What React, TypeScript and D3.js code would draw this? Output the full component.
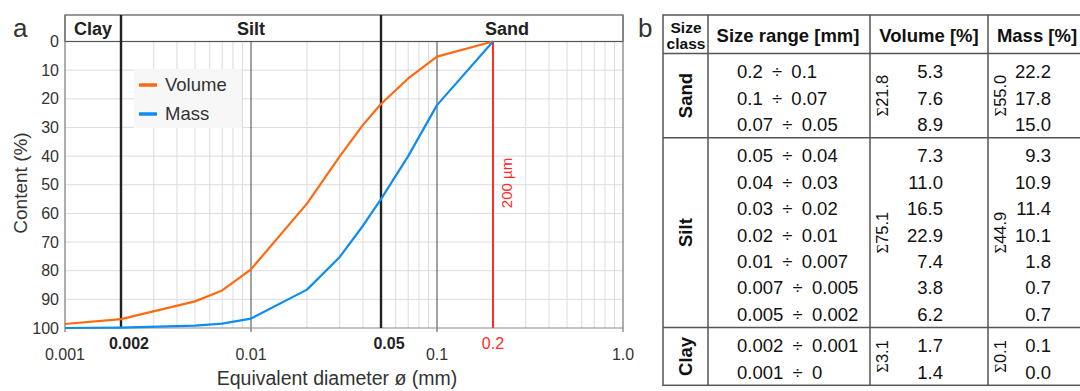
import { useEffect, useRef } from "react";
import * as d3 from "d3";

// cumulative content curves, diameters in mm
const diameters = [0.001, 0.002, 0.005, 0.007, 0.01, 0.02, 0.03, 0.04, 0.05, 0.07, 0.1, 0.2];
const volumeCum = [98.6, 96.9, 90.7, 86.9, 79.5, 56.6, 40.1, 29.1, 21.8, 12.9, 5.3, 0];
const massCum = [100, 99.9, 99.2, 98.5, 96.7, 86.6, 75.2, 64.3, 55.0, 40.0, 22.2, 0];

const classNames = ["Clay", "Silt", "Sand"];
const classBounds = [0.001, 0.002, 0.05, 1];
const yTicks = [0, 10, 20, 30, 40, 50, 60, 70, 80, 90, 100];
const xTicks = [0.001, 0.01, 0.1, 1];
const xTickLabels = ["0.001", "0.01", "0.1", "1.0"];
const boldTicks = [0.002, 0.05];
const limitSize = 0.2;

// table (panel b)
const tableClasses = ["Sand", "Silt", "Clay"];
const classRowCounts = [3, 7, 2];
const sizeRanges = [
  "0.2 ÷ 0.1", "0.1 ÷ 0.07", "0.07 ÷ 0.05",
  "0.05 ÷ 0.04", "0.04 ÷ 0.03", "0.03 ÷ 0.02", "0.02 ÷ 0.01", "0.01 ÷ 0.007", "0.007 ÷ 0.005", "0.005 ÷ 0.002",
  "0.002 ÷ 0.001", "0.001 ÷ 0",
];
const volumePct = [5.3, 7.6, 8.9, 7.3, 11.0, 16.5, 22.9, 7.4, 3.8, 6.2, 1.7, 1.4];
const massPct = [22.2, 17.8, 15.0, 9.3, 10.9, 11.4, 10.1, 1.8, 0.7, 0.7, 0.1, 0.0];
const volumeSums = ["21.8", "75.1", "3.1"];
const massSums = ["55.0", "44.9", "0.1"];

const FONT = "'Liberation Sans', Arial, sans-serif";
const ORANGE = "#ff6a10";
const BLUE = "#0f8cf0";
const RED = "#ff2b2b";
const TXT = "#333";

export default function App() {
  const svgRef = useRef<SVGSVGElement>(null);

  useEffect(() => {
    if (!svgRef.current) return;
    const svg = d3.select(svgRef.current);
    svg.selectAll("*").remove();
    svg.attr("font-family", FONT);

    const left = 65, right = 623, top = 41.5, bottom = 328, headTop = 15;
    const x = d3.scaleLog().domain([0.001, 1]).range([left, right]);
    const y = d3.scaleLinear().domain([0, 100]).range([top, bottom]);

    const g = svg.append("g");

    // minor vertical grid
    const minor: number[] = [];
    [0.001, 0.01, 0.1].forEach((d) => d3.range(2, 10).forEach((k) => minor.push(d * k)));
    g.selectAll(".minor").data(minor).join("line")
      .attr("x1", (d) => x(d)).attr("x2", (d) => x(d)).attr("y1", top).attr("y2", bottom)
      .attr("stroke", "#dcdcdc").attr("stroke-width", 1);

    // horizontal grid
    g.selectAll(".hgrid").data(yTicks.slice(1, -1)).join("line")
      .attr("x1", left).attr("x2", right).attr("y1", (d) => y(d)).attr("y2", (d) => y(d))
      .attr("stroke", "#dcdcdc").attr("stroke-width", 1);

    // decade lines
    g.selectAll(".decade").data([0.01, 0.1]).join("line")
      .attr("x1", (d) => x(d)).attr("x2", (d) => x(d)).attr("y1", top).attr("y2", bottom + 4)
      .attr("stroke", "#444").attr("stroke-width", 1);

    // frame
    g.append("rect").attr("x", left).attr("y", headTop).attr("width", right - left).attr("height", top - headTop)
      .attr("fill", "none").attr("stroke", "#555").attr("stroke-width", 1.2);
    g.append("line").attr("x1", left).attr("x2", right).attr("y1", bottom).attr("y2", bottom)
      .attr("stroke", "#888").attr("stroke-width", 1.2);
    g.append("line").attr("x1", left).attr("x2", left).attr("y1", headTop).attr("y2", bottom + 4)
      .attr("stroke", "#777").attr("stroke-width", 1.2);
    g.append("line").attr("x1", right).attr("x2", right).attr("y1", headTop).attr("y2", bottom + 4)
      .attr("stroke", "#777").attr("stroke-width", 1.2);

    // class boundaries
    g.selectAll(".bound").data(boldTicks).join("line")
      .attr("x1", (d) => x(d)).attr("x2", (d) => x(d)).attr("y1", headTop).attr("y2", bottom)
      .attr("stroke", "#222").attr("stroke-width", 2.4);

    // class labels
    g.selectAll(".cls").data(classNames).join("text")
      .attr("x", (_, i) => (x(classBounds[i]) + x(classBounds[i + 1])) / 2 + (i === 0 ? 0 : -5 + i * 5))
      .attr("y", 35).attr("text-anchor", "middle").attr("font-weight", "bold")
      .attr("font-size", 18).attr("fill", "#222").text((d) => d);

    // 200 µm line
    g.append("line").attr("x1", x(limitSize)).attr("x2", x(limitSize)).attr("y1", top).attr("y2", bottom)
      .attr("stroke", RED).attr("stroke-width", 2);
    g.append("text").attr("transform", `translate(${x(limitSize) + 19},183) rotate(-90)`)
      .attr("text-anchor", "middle").attr("font-size", 15).attr("fill", RED).text("200 µm");

    // curves
    const line = d3.line<number>()
      .x((_, i) => x(diameters[i])).y((d) => y(d));
    g.append("path").datum(volumeCum).attr("d", line).attr("fill", "none")
      .attr("stroke", ORANGE).attr("stroke-width", 2.2).attr("stroke-linejoin", "round");
    g.append("path").datum(massCum).attr("d", line).attr("fill", "none")
      .attr("stroke", BLUE).attr("stroke-width", 2.2).attr("stroke-linejoin", "round");

    // y ticks
    g.selectAll(".ytl").data(yTicks).join("text")
      .attr("x", left - 6).attr("y", (d) => y(d) + 5.5).attr("text-anchor", "end")
      .attr("font-size", 16).attr("fill", TXT).text((d) => d);
    g.append("text").attr("transform", `translate(27,183) rotate(-90)`)
      .attr("text-anchor", "middle").attr("font-size", 19).attr("fill", TXT).text("Content (%)");

    // x ticks
    g.selectAll(".xtl").data(xTicks).join("text")
      .attr("x", (d) => x(d)).attr("y", 360).attr("text-anchor", "middle")
      .attr("font-size", 16).attr("fill", TXT).text((_, i) => xTickLabels[i]);
    g.selectAll(".xbl").data(boldTicks).join("text")
      .attr("x", (d) => x(d) + 8).attr("y", 349).attr("text-anchor", "middle").attr("font-weight", "bold")
      .attr("font-size", 16).attr("fill", "#222").text((d) => String(d));
    g.append("text").attr("x", x(limitSize)).attr("y", 349).attr("text-anchor", "middle")
      .attr("font-size", 16).attr("fill", RED).text(String(limitSize));
    g.append("text").attr("x", 337).attr("y", 385).attr("text-anchor", "middle")
      .attr("font-size", 19.5).attr("fill", TXT).text("Equivalent diameter ø (mm)");

    // legend
    const lg = g.append("g").attr("transform", "translate(134,69)");
    lg.append("rect").attr("width", 108).attr("height", 59).attr("fill", "#f7f7f7");
    [["Volume", ORANGE], ["Mass", BLUE]].forEach(([name, c], i) => {
      lg.append("line").attr("x1", 5).attr("x2", 23).attr("y1", 16 + i * 29).attr("y2", 16 + i * 29)
        .attr("stroke", c).attr("stroke-width", 3.5);
      lg.append("text").attr("x", 31).attr("y", 22 + i * 29).attr("font-size", 18.5).attr("fill", TXT).text(name);
    });

    // panel letters
    svg.append("text").attr("x", 13).attr("y", 37).attr("font-size", 26).attr("fill", TXT).text("a");
    svg.append("text").attr("x", 638).attr("y", 37).attr("font-size", 26).attr("fill", TXT).text("b");

    // ---------- table ----------
    const t = svg.append("g");
    const colX = [663, 708, 870, 988, 1082];
    const tTop = 15, headBottom = 53.5, rowH = 26.4, pad = 5;
    const stroke = "#555";

    const groups: { y0: number; y1: number; start: number; n: number }[] = [];
    let cy = headBottom, start = 0;
    classRowCounts.forEach((n) => {
      const h = n * rowH + pad;
      groups.push({ y0: cy, y1: cy + h, start, n });
      cy += h; start += n;
    });
    const tBottom = cy;

    t.append("rect").attr("x", colX[0]).attr("y", tTop).attr("width", colX[4] - colX[0]).attr("height", tBottom - tTop)
      .attr("fill", "none").attr("stroke", stroke).attr("stroke-width", 1.5);
    colX.slice(1, 4).forEach((cx) => {
      t.append("line").attr("x1", cx).attr("x2", cx).attr("y1", tTop).attr("y2", tBottom)
        .attr("stroke", stroke).attr("stroke-width", 1.5);
    });
    [headBottom, ...groups.slice(1).map((gr) => gr.y0)].forEach((yy) => {
      t.append("line").attr("x1", colX[0]).attr("x2", colX[4]).attr("y1", yy).attr("y2", yy)
        .attr("stroke", stroke).attr("stroke-width", 1.5);
    });

    // header
    t.append("text").attr("x", 686).attr("y", 33).attr("text-anchor", "middle").attr("font-weight", "bold")
      .attr("font-size", 15.5).attr("fill", "#111").text("Size");
    t.append("text").attr("x", 686).attr("y", 49).attr("text-anchor", "middle").attr("font-weight", "bold")
      .attr("font-size", 15.5).attr("fill", "#111").text("class");
    const headX = [788, 929, 1037];
    ["Size range [mm]", "Volume [%]", "Mass [%]"].forEach((h, i) => {
      t.append("text").attr("x", headX[i]).attr("y", 42)
        .attr("text-anchor", "middle").attr("font-weight", "bold").attr("font-size", 18.5).attr("fill", "#111").text(h);
    });

    const rowY = (i: number) => {
      const gr = groups.find((q) => i >= q.start && i < q.start + q.n)!;
      return gr.y0 + pad / 2 + 2.5 + (i - gr.start) * rowH + rowH / 2;
    };
    const fmt = d3.format(".1f");

    sizeRanges.forEach((r, i) => {
      const yy = rowY(i) + 6.5;
      t.append("text").attr("x", 737).attr("y", yy).attr("font-size", 18.5).attr("fill", "#111")
        .text(r.replace(" ÷ ", "\u2002÷\u2002"));
      t.append("text").attr("x", 943).attr("y", yy).attr("text-anchor", "end").attr("font-size", 18.5)
        .attr("fill", "#111").text(fmt(volumePct[i]));
      t.append("text").attr("x", 1051).attr("y", yy).attr("text-anchor", "end").attr("font-size", 18.5)
        .attr("fill", "#111").text(fmt(massPct[i]));
    });

    groups.forEach((gr, gi) => {
      const mid = (gr.y0 + gr.y1) / 2;
      t.append("text").attr("transform", `translate(692,${mid}) rotate(-90)`).attr("text-anchor", "middle")
        .attr("font-weight", "bold").attr("font-size", 18.5).attr("fill", "#111").text(tableClasses[gi]);
      [[volumeSums[gi], 888], [massSums[gi], 1006]].forEach(([s, sx]) => {
        const tx = t.append("text").attr("transform", `translate(${sx},${mid}) rotate(-90)`)
          .attr("text-anchor", "middle").attr("font-size", 16.5).attr("fill", "#111");
        tx.append("tspan").attr("font-family", "'Liberation Serif', serif").text("Σ");
        tx.append("tspan").text(String(s));
      });
    });
  }, []);

  return (
    <svg ref={svgRef} width={1080} height={391}
      style={{ position: "fixed", left: 0, top: 0, background: "#fff", display: "block" }} />
  );
}
